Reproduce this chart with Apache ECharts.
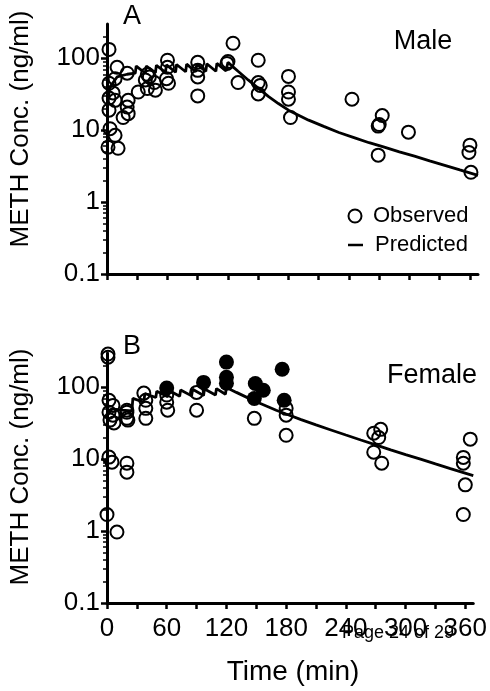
<!DOCTYPE html>
<html>
<head>
<meta charset="utf-8">
<script src="https://cdn.jsdelivr.net/npm/echarts@6/dist/echarts.min.js"></script>
<style>html,body{margin:0;padding:0;background:#fff;}#c{width:490px;height:691px;}</style>
</head>
<body>
<div id="c"></div>
<script>
// ---------- data ----------
const xTickValues = [0, 30, 60, 90, 120, 150, 180, 210, 240, 270, 300, 330, 360];
const xLabelValues = [0, 60, 120, 180, 240, 300, 360];
const yTickValues = [0.1, 1, 10, 100];
const yTickLabels = ['0.1', '1', '10', '100'];
const yMinorValues = [0.2,0.3,0.4,0.5,0.6,0.7,0.8,0.9,2,3,4,5,6,7,8,9,20,30,40,50,60,70,80,90,200];

// Panel A (Male) observed [time min, conc ng/ml]
const maleObserved = [
  [2,133],[2,45],[2,28],[2,19],[3,10.5],[1,5.8],
  [10,75],[8,52],[6,33],[8,26],[8,8.5],[11,5.6],
  [20,62],[21,26],[20,21],[21,17],[16,15],
  [31,34],
  [40,60],[42,55],[38,50],[40,38],
  [47,46],[48,36],
  [60,94],[60,75],[59,52],[61,45],
  [90,88],[90,68],[90,55],[90,30],
  [120,90],[119,85],[125,162],[130,46],
  [150,94],[150,46],[152,42],[150,32],
  [180,56],[180,34],[180,27],[182,15],
  [243,27],
  [273,16],[269,11.4],[270,12],[269,4.5],
  [299,9.4],
  [360,6.2],[359,4.9],[361,2.6]
];
// Panel A predicted
const malePredicted = [
  [0,22],[3,40],[10,55],[20,60],[28,62],[29,78],[38,62],[39,78],[48,63],[49,80],
  [58,64],[59,81],[68,64],[69,82],[78,65],[79,83],[88,65],[89,83],[98,66],[99,84],
  [108,66],[109,85],[118,67],[120,88],[125,76],[130,66],[140,50],[150,38.5],[160,29.5],
  [170,23.5],[180,19],[190,16.2],[200,13.8],[215,11.3],[230,9.3],[245,7.9],[260,6.7],
  [275,5.8],[290,5.0],[305,4.35],[320,3.75],[335,3.25],[350,2.8],[368,2.35]
];
// Panel B (Female) observed, open symbols
const femaleObserved = [
  [1,290],[1,262],
  [2,66],[2,45],[3,35],[6,56],[6,41],[7,32],
  [20,48],[20,45],[20,37],[21,35],
  [2,10.7],[5,9.1],[20,8.8],[20,6.6],[0,1.7],[10,0.97],
  [37,83],[39,66],[39,51],[39,37],
  [60,78],[60,62],[61,48],
  [90,85],[90,48],
  [148,37],
  [180,51],[180,41],[180,21.5],
  [268,23],[275,26],[273,20],[268,12.5],[276,8.8],
  [365,19],[358,10.6],[358,8.8],[360,4.4],[358,1.7]
];
// Panel B observed, filled symbols
const femaleObservedFilled = [
  [60,98],[97,117],[120,224],[120,138],[120,114],
  [149,113],[157,91],[148,70],[176,178],[178,66]
];
// Panel B predicted
const femalePredicted = [
  [0,40],[5,50],[15,48],[25,47],[26,70],[37,62],[38,82],[49,72],[50,88],[61,74],
  [62,91],[73,75],[74,92],[85,76],[86,94],[97,77],[98,95],[109,78],[110,96],[119,80],
  [120,100],[125,92],[130,85],[140,73],[150,63],[160,55],[170,48],[180,42.5],[195,35.5],
  [210,30],[225,25.5],[240,21.7],[255,18.5],[270,15.8],[285,13.5],[300,11.6],[315,10],
  [330,8.6],[345,7.4],[368,5.9]
];

// ---------- chart ----------
const FONT = 'Liberation Sans, Arial, sans-serif';
const chart = echarts.init(document.getElementById('c'), null, {renderer: 'canvas'});

function xAxis(grid, showLabels) {
  return {
    type: 'value', gridIndex: grid, min: 0, max: 368,
    axisLine: {onZero: false, lineStyle: {color: '#000', width: 3}},
    axisTick: {customValues: xTickValues, length: 6, lineStyle: {color: '#000', width: 2.5}},
    axisLabel: {show: showLabels, customValues: xLabelValues, fontSize: 26, color: '#000',
                fontFamily: FONT, margin: 13},
    splitLine: {show: false}
  };
}
function yAxis(grid) {
  return {
    type: 'log', logBase: 10, gridIndex: grid, min: 0.1, max: 300, position: 'left',
    axisLine: {onZero: false, lineStyle: {color: '#000', width: 3}},
    axisTick: {customValues: yTickValues, length: 6, lineStyle: {color: '#000', width: 2.5}},
    axisLabel: {customValues: yTickValues, fontSize: 26, color: '#000', fontFamily: FONT, margin: 7,
      formatter: function (v) {
        const i = yTickValues.findIndex(x => Math.abs(x - v) / x < 1e-6);
        return i >= 0 ? yTickLabels[i] : '';
      }},
    splitLine: {show: false}
  };
}
function yMinorAxis(grid) {
  return {
    type: 'log', logBase: 10, gridIndex: grid, min: 0.1, max: 300, position: 'left',
    axisLine: {show: false},
    axisTick: {customValues: yMinorValues, length: 4, lineStyle: {color: '#000', width: 1.5}},
    axisLabel: {show: false},
    splitLine: {show: false}
  };
}
const openSym = {color: 'rgba(0,0,0,0)', borderColor: '#000', borderWidth: 2, opacity: 1};

chart.setOption({
  animation: false,
  backgroundColor: '#fff',
  grid: [
    {left: 107, top: 24, width: 371, height: 250},
    {left: 107, top: 353, width: 371, height: 250}
  ],
  xAxis: [xAxis(0, false), xAxis(1, true)],
  yAxis: [yAxis(0), yAxis(1), yMinorAxis(0), yMinorAxis(1)],
  series: [
    {name: 'Observed', type: 'scatter', xAxisIndex: 0, yAxisIndex: 0, data: maleObserved,
     symbol: 'circle', symbolSize: 13, itemStyle: openSym, z: 3},
    {name: 'Predicted', type: 'line', xAxisIndex: 0, yAxisIndex: 0, data: malePredicted,
     showSymbol: false, lineStyle: {color: '#000', width: 2.8}, z: 2},
    {name: 'Observed', type: 'scatter', xAxisIndex: 1, yAxisIndex: 1, data: femaleObserved,
     symbol: 'circle', symbolSize: 13, itemStyle: openSym, z: 3},
    {name: 'Observed (filled)', type: 'scatter', xAxisIndex: 1, yAxisIndex: 1, data: femaleObservedFilled,
     symbol: 'circle', symbolSize: 15, itemStyle: {color: '#000', opacity: 1}, z: 4},
    {name: 'Predicted', type: 'line', xAxisIndex: 1, yAxisIndex: 1, data: femalePredicted,
     showSymbol: false, lineStyle: {color: '#000', width: 2.8}, z: 2}
  ],
  graphic: [
    {type: 'text', x: 132, y: 17, style: {text: 'A', font: '27px ' + FONT, fill: '#000', align: 'center', verticalAlign: 'middle'}},
    {type: 'text', x: 132, y: 347, style: {text: 'B', font: '27px ' + FONT, fill: '#000', align: 'center', verticalAlign: 'middle'}},
    {type: 'text', x: 423, y: 42, style: {text: 'Male', font: '27px ' + FONT, fill: '#000', align: 'center', verticalAlign: 'middle'}},
    {type: 'text', x: 432, y: 376, style: {text: 'Female', font: '27px ' + FONT, fill: '#000', align: 'center', verticalAlign: 'middle'}},
    {type: 'text', x: 21, y: 129, rotation: Math.PI / 2, style: {text: 'METH Conc. (ng/ml)', font: '26px ' + FONT, fill: '#000', align: 'center', verticalAlign: 'middle'}},
    {type: 'text', x: 21, y: 467, rotation: Math.PI / 2, style: {text: 'METH Conc. (ng/ml)', font: '26px ' + FONT, fill: '#000', align: 'center', verticalAlign: 'middle'}},
    {type: 'text', x: 293, y: 672, style: {text: 'Time (min)', font: '28px ' + FONT, fill: '#000', align: 'center', verticalAlign: 'middle'}},
    {type: 'circle', shape: {cx: 355, cy: 216, r: 6.5}, style: {fill: 'none', stroke: '#000', lineWidth: 2}},
    {type: 'text', x: 373, y: 216, style: {text: 'Observed', font: '22px ' + FONT, fill: '#000', align: 'left', verticalAlign: 'middle'}},
    {type: 'line', shape: {x1: 348, y1: 245, x2: 363, y2: 245}, style: {stroke: '#000', lineWidth: 2.5}},
    {type: 'text', x: 375, y: 245, style: {text: 'Predicted', font: '22px ' + FONT, fill: '#000', align: 'left', verticalAlign: 'middle'}},
    {type: 'text', x: 342, y: 633, style: {text: 'Page 24 of 29', font: '18px ' + FONT, fill: '#000', align: 'left', verticalAlign: 'middle'}}
  ]
});
</script>
</body>
</html>
